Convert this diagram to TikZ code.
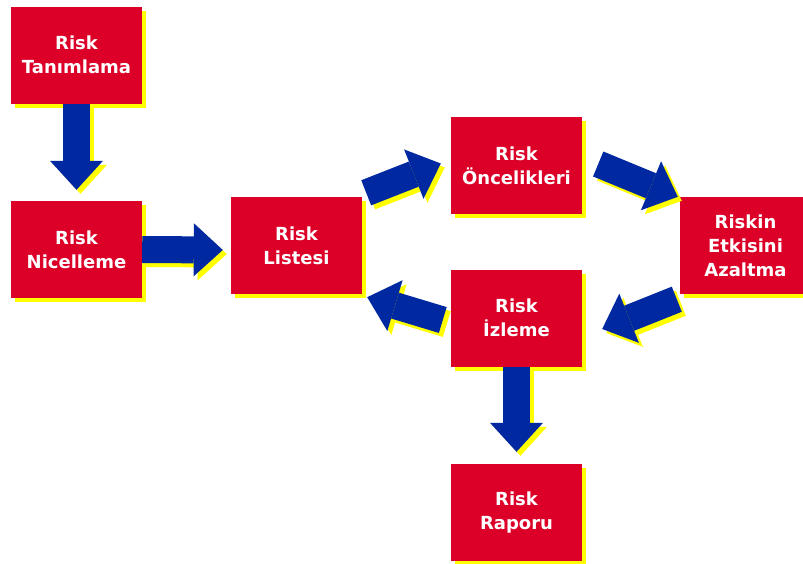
\documentclass[tikz,border=0pt]{standalone}
\usepackage{fontspec}
\setmainfont{DejaVu Sans}
\usepackage{xcolor}
\usepackage{tikz}
\usetikzlibrary{arrows.meta,calc,shadows}

\definecolor{riskred}{RGB}{220,0,40}
\definecolor{flowblue}{RGB}{0,40,160}
\definecolor{shadowyellow}{RGB}{255,255,0}

\tikzset{
  box/.style={fill=riskred, text=white, minimum width=131pt, minimum height=97pt,
    inner sep=0pt, align=center, font=\bfseries\fontsize{18}{24}\selectfont,
    drop shadow={shadow xshift=4pt, shadow yshift=-4pt, fill=shadowyellow, opacity=1}},
  flow/.style={draw=flowblue, line width=27pt,
    -{Triangle[width=53pt,length=29pt,line width=0pt]}},
  flowshadow/.style={flow, draw=shadowyellow, transform canvas={xshift=4pt,yshift=-4pt}}
}

\begin{document}
\begin{tikzpicture}[x=1pt, y=-1pt]
            \useasboundingbox (0,0) rectangle (803,563);
            % Boxes
            \node[box] (tan) at (76.5,55) {Risk\\Tanımlama};
            \node[box] (nic) at (76.5,249.5) {Risk\\Nicelleme};
            \node[box] (lst) at (296.5,245.5) {Risk\\Listesi};
            \node[box] (onc) at (516.5,165.5) {Risk\\Öncelikleri};
            \node[box] (azl) at (745.5,245.5) {Riskin\\Etkisini\\Azaltma};
            \node[box] (izl) at (516.5,318) {Risk\\İzleme};
            \node[box] (rap) at (516.5,512.5) {Risk\\Raporu};

            % Arrows between the boxes
            \foreach \s in {flowshadow, flow}
            {
                \draw[\s] (tan.south) -- ($(nic.north)+(0,-11)$);
                \draw[\s] (nic.east) -- ($(lst.west)+(-8,4.5)$);
                \draw[\s] ($(lst.north east)+(4,-4)$) -- ($(onc.west)+(-10,-2)$);
                \draw[\s] ($(onc.east)+(16,-1.5)$) -- ($(azl.north west)+(-2,0)$);
                \draw[\s] ($(azl.south west)+(-3,5)$) -- ($(izl.east)+(20,11)$);
                \draw[\s] ($(izl.west)+(-8,2)$) -- ($(lst.south east)+(5,3)$);
                \draw[\s] (izl.south) -- ($(rap.north)+(0,-12)$);
            }
\end{tikzpicture}
\end{document}
